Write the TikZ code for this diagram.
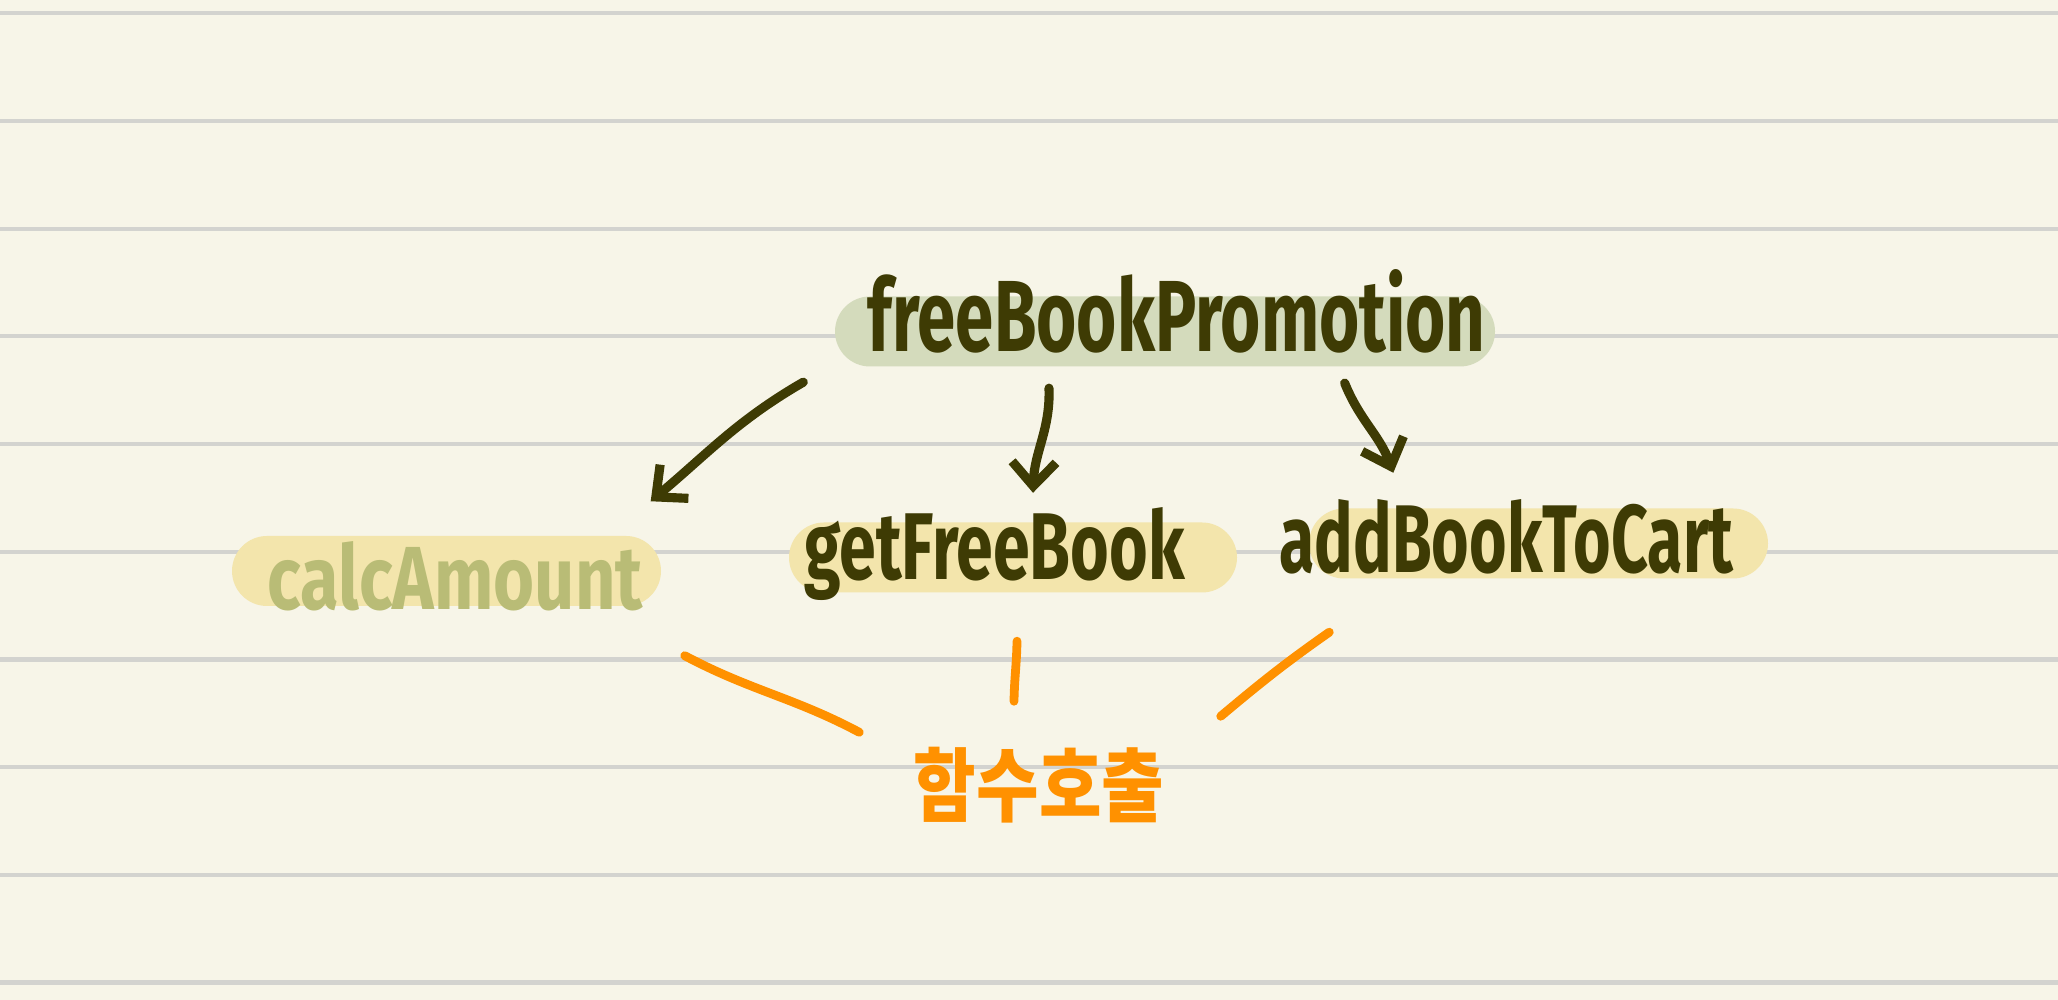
\documentclass[tikz,border=0pt]{standalone}
\usepackage{fontspec}
\setmainfont{Fira Sans}
\newfontfamily\hangul{Noto Sans CJK KR}
\usetikzlibrary{arrows.meta}
\definecolor{paper}{HTML}{F7F5E8}
\definecolor{ruling}{HTML}{D3D3CF}
\definecolor{ink}{HTML}{3E3B04}
\definecolor{fadeink}{HTML}{B9BC76}
\definecolor{greenmark}{HTML}{D4DBBC}
\definecolor{yellowmark}{HTML}{F3E5AC}
\definecolor{callorange}{HTML}{FF9100}
\newcommand{\hand}[3]{\resizebox{#1cm}{#2cm}{\bfseries #3}}

\begin{document}
\begin{tikzpicture}[line cap=round,line join=round,
  hl/.style={rounded corners=0.35cm,minimum height=0.7cm,inner sep=0},
  word/.style={anchor=base west,inner sep=0,text=ink},
  arr/.style={ink,line width=2.6pt,-{Straight Barb[length=2.4mm,width=4.4mm]}},
  callline/.style={callorange,line width=2.5pt}]
  \fill[paper] (0,0) rectangle (20.58,10);
  \useasboundingbox (0,0) rectangle (20.58,10);
  \foreach \k in {0,...,9}
    \draw[ruling,line width=1.2pt,line cap=butt] (0,9.867-1.077*\k) -- (20.58,9.867-1.077*\k);
  % marker strokes
  \node[hl,fill=greenmark,minimum width=6.6cm] (fbpHL) at (11.65,6.685) {};
  \node[hl,fill=yellowmark,minimum width=4.29cm] (calcHL) at (4.465,4.29) {};
  \node[hl,fill=yellowmark,minimum width=4.48cm] (getHL) at (10.13,4.425) {};
  \node[hl,fill=yellowmark,minimum width=4.59cm] (addHL) at (15.385,4.565) {};
  % function names
  \node[word] (fbp) at (8.67,6.48) {\hand{6.18}{0.82}{freeBookPromotion}};
  \node[word,text=fadeink] (calc) at (2.67,3.90) {\hand{3.75}{0.68}{calcAmount}};
  \node[word] (getfree) at (8.04,4.20) {\hand{3.80}{0.72}{getFreeBook}};
  \node[word] (addcart) at (12.79,4.27) {\hand{4.54}{0.73}{addBookToCart}};
  \node[text=callorange,inner sep=0] (call) at (10.39,2.15) {\resizebox*{2.5cm}{0.76cm}{\hangul\bfseries 함수호출}};
  % calls
  \draw[arr] ([shift={(-0.31,-0.15)}]fbpHL.south west) to[out=-150,in=40] ([shift={(-0.11,0.34)}]calcHL.north east);
  \draw[arr] ([shift={(-1.16,-0.21)}]fbpHL.south) to[out=-88,in=88] ([shift={(0.20,0.29)}]getHL.north);
  \draw[arr] ([shift={(-1.51,-0.16)}]fbpHL.south east) to[out=-68,in=110] ([shift={(0.85,0.35)}]addHL.north west);
  % to the label
  \draw[callline] ([shift={(0.23,-0.49)}]calcHL.south east) to[out=-28,in=152] ([shift={(-0.54,0.14)}]call.north west);
  \draw[callline] ([shift={(0.04,-0.48)}]getHL.south) to[out=-91,in=89] ([shift={(-0.25,0.45)}]call.north);
  \draw[callline] ([shift={(0.21,-0.53)}]addHL.south west) to[out=215,in=40] ([shift={(0.56,0.30)}]call.north east);
\end{tikzpicture}
\end{document}
